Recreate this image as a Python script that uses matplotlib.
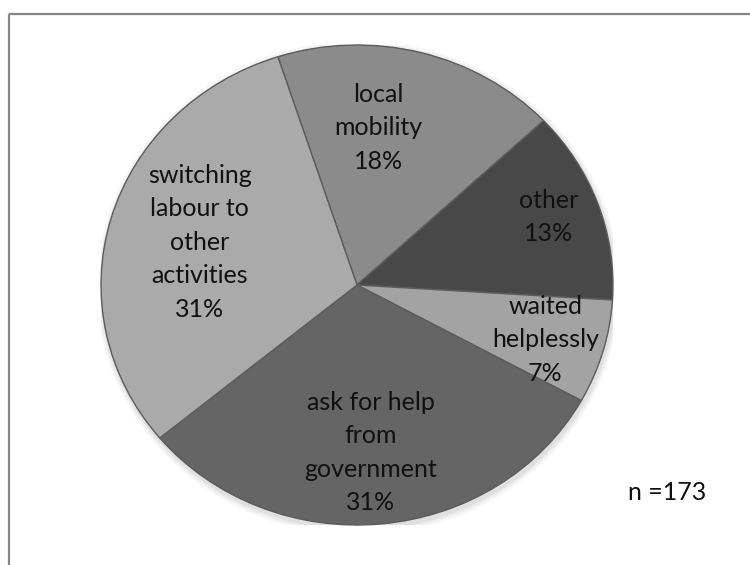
import numpy as np
import matplotlib
matplotlib.use("Agg")
import matplotlib.pyplot as plt
from matplotlib.patches import Rectangle, Ellipse

# responses, clockwise from the top
labels = ["local\nmobility", "other", "waited\nhelplessly",
          "ask for help\nfrom\ngovernment", "switching\nlabour to\nother\nactivities"]
shares = [18, 13, 7, 31, 31]
colors = ["#8b8b8b", "#484848", "#a3a3a3", "#656565", "#aaaaaa"]
label_dist = [0.66, 0.80, 0.77, 0.70, 0.64]
label_nudge = [7, 1, -1, -1, 0]   # degrees
n_total = 173

plt.rcParams["font.family"] = ["Lato", "DejaVu Sans"]

fig = plt.figure(figsize=(7.5, 5.65), dpi=100)

# background axes in pixel units for the frame and the n note
bg = fig.add_axes([0, 0, 1, 1])
bg.set_xlim(0, 750)
bg.set_ylim(565, 0)
bg.axis("off")
bg.add_patch(Rectangle((8.5, 13.5), 800, 600, fill=False,
                       edgecolor="#878787", linewidth=1.6))
bg.text(667, 492, "n =" + str(n_total), ha="center", va="center",
        fontsize=18, color="#111111")

# the pie itself is slightly taller than wide in pixels, so use an auto aspect
ax = fig.add_axes([101 / 750, 40 / 565, 512 / 750, 480 / 565])

# soft shadow under the disc
for k, a in enumerate([0.03, 0.04, 0.05]):
    ax.add_patch(Ellipse((0.005, -0.012), 2.0 + 0.015 * (3 - k), 2.0 + 0.02 * (3 - k),
                         facecolor="#000000", edgecolor="none", alpha=a, zorder=0))

wedges, _ = ax.pie(shares, colors=colors, startangle=108, counterclock=False,
                   radius=1.0,
                   wedgeprops=dict(edgecolor="#5c5c5c", linewidth=1.0))
for w in wedges:
    w.set_zorder(2)

ax.set_aspect("auto")
ax.set_xlim(-1, 1)
ax.set_ylim(-1, 1)
ax.axis("off")

for w, lab, v, d, nud in zip(wedges, labels, shares, label_dist, label_nudge):
    mid = np.deg2rad((w.theta1 + w.theta2) / 2 + nud)
    ax.text(d * np.cos(mid), d * np.sin(mid), lab + "\n" + str(v) + "%",
            ha="center", va="center", fontsize=18, color="#111111",
            linespacing=1.55, zorder=5)

fig.savefig("out.png", dpi=100)
